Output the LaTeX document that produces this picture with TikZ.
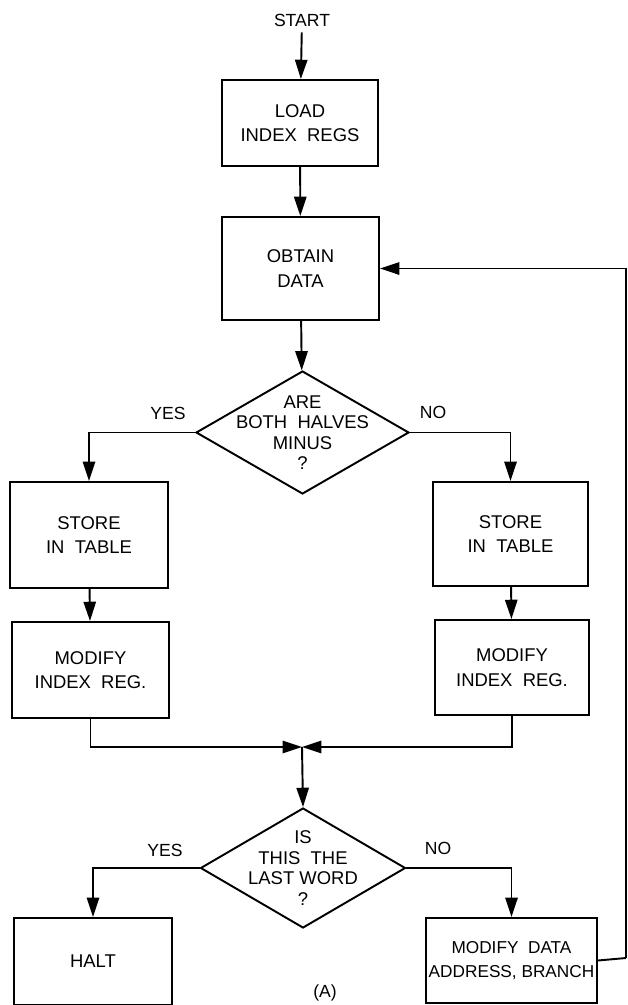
\documentclass[tikz,border=0pt]{standalone}
\usepackage{fontspec}
\setmainfont{Liberation Sans}
\usetikzlibrary{arrows.meta,shapes.geometric}

\begin{document}
\begin{tikzpicture}[x=0.02cm, y=-0.02cm]
  % Styles
  \tikzset{
    box/.style={draw=black, line width=1.1pt, rectangle, align=center,
      font=\fontsize{10.5}{14}\selectfont, inner sep=0pt},
    decision/.style={draw=black, line width=1.1pt, diamond, inner sep=0pt},
    dtext/.style={align=center, font=\fontsize{10.5}{11.6}\selectfont},
    lbl/.style={font=\fontsize{10}{11}\selectfont},
    flow/.style={line width=1.1pt, -{Triangle[length=11pt, width=7pt]}},
    link/.style={line width=1.1pt},
  }

  % Cadre
  \useasboundingbox (0,0) rectangle (628,1005);

  % Debut
  \node[lbl] (start) at (302,20) {START};
  \node[box, minimum width=3.12cm, minimum height=1.72cm] (load) at (300,123) {LOAD\\INDEX\ \ REGS};
  \node[box, minimum width=3.14cm, minimum height=2.06cm] (obtain) at (300.5,268.5) {OBTAIN\\DATA};

  % Premier test
  \node[decision, minimum width=4.26cm, minimum height=2.46cm,
    label={[dtext]center:ARE\\BOTH\ \ HALVES\\MINUS\\?}] (minus) at (302.5,432.5) {};
  \node[lbl] (yesA) at (168,413) {YES};
  \node[lbl] (noA) at (433,412) {NO};

  % Branches
  \node[box, minimum width=3.16cm, minimum height=2.12cm] (storeL) at (89,535) {STORE\\IN\ \ TABLE};
  \node[box, minimum width=3.10cm, minimum height=2.08cm] (storeR) at (510.5,534) {STORE\\IN\ \ TABLE};
  \node[box, minimum width=3.14cm, minimum height=1.92cm] (modL) at (90.5,670) {MODIFY\\INDEX\ \ REG.};
  \node[box, minimum width=3.08cm, minimum height=1.90cm] (modR) at (512,667.5) {MODIFY\\INDEX\ \ REG.};
  \coordinate (merge) at (302,747);

  % Second test
  \node[decision, minimum width=4.10cm, minimum height=2.40cm,
    label={[dtext]center:IS\\THIS\ \ THE\\LAST WORD\\?}] (last) at (303,868) {};
  \node[lbl] (yesB) at (165,850) {YES};
  \node[lbl] (noB) at (438,848) {NO};
  \node[box, minimum width=3.16cm, minimum height=1.74cm] (halt) at (93,961.5) {HALT};
  \node[box, minimum width=3.42cm, minimum height=1.70cm,
    font=\fontsize{9.8}{14}\selectfont] (moddata) at (511.5,960.5) {MODIFY\ \ DATA\\ADDRESS, BRANCH};
  \node[lbl] (caption) at (325,993) {(A)};
  \coordinate (edge) at (626,958);

  % Liaisons
  \draw[flow] (start) -- (load);
  \draw[flow] (load) -- (obtain);
  \draw[flow] (obtain) -- (minus);
  \draw[flow] (minus.west) -| (storeL.north);
  \draw[flow] (minus.east) -| (storeR.north);
  \draw[flow] (storeL) -- (modL);
  \draw[flow] (storeR) -- (modR);
  \draw[flow] (modL.south) |- (merge);
  \draw[flow] (modR.south) |- (merge);
  \draw[flow] (merge) -- (last.north);
  \draw[flow] (last.west) -| (halt.north);
  \draw[flow] (last.east) -| (moddata.north);
  \draw[link] (moddata.east) -- (edge);
  \draw[flow] (edge) |- (obtain.east);

\end{tikzpicture}
\end{document}
